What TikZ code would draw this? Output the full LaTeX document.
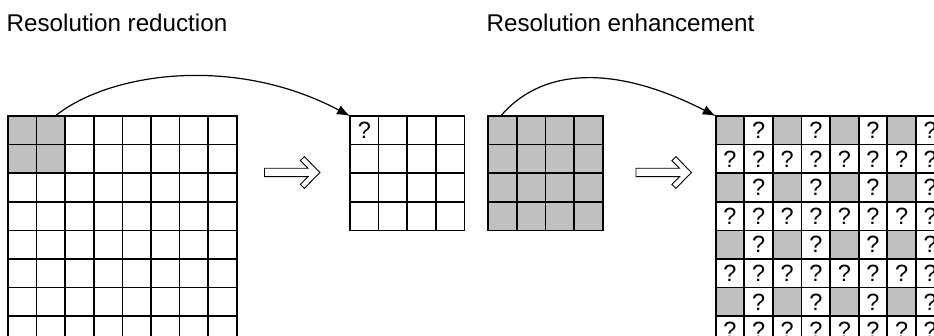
\documentclass[tikz,border=0pt]{standalone}
\usepackage{fontspec}
\setmainfont{Liberation Sans}
\usetikzlibrary{arrows.meta}
\definecolor{cellgray}{HTML}{C0C0C0}
\tikzset{
  cell/.style={draw, line width=1.7pt, minimum size=28.6pt, inner sep=0pt,
    outer sep=0pt, anchor=north west, font=\fontsize{23.5}{24}\selectfont},
  title/.style={anchor=base west, inner sep=0pt, font=\fontsize{24.2}{25}\selectfont},
  conn/.style={line width=1.2pt, -{Latex[length=13pt,width=10pt]}},
  hollowarrow/.pic={
    \draw[line width=0.9pt, fill=white]
      (0,-4.2) -- (43.5,-4.2) -- (35.8,-11.9) -- (39.8,-15.9) -- (55.5,0)
      -- (39.8,15.9) -- (35.8,11.9) -- (43.5,4.2) -- (0,4.2) -- cycle;
  }
}
\begin{document}
\begin{tikzpicture}[x=1pt,y=-1pt]
\path[use as bounding box] (0,0) rectangle (934,336);
\clip (0,0) rectangle (934,336);

% titles
\node[title] (t1) at (6.5,31.7) {Resolution reduction};
\node[title] (t2) at (486.5,31.7) {Resolution enhancement};

% 8x8 input grid, top-left 2x2 block shaded
\foreach \r in {0,...,7}{
  \foreach \c in {0,...,7}{
    \pgfmathtruncatemacro\g{(\r<2 && \c<2) ? 1 : 0}
    \ifnum\g=1 \def\fc{cellgray}\else\def\fc{white}\fi
    \node[cell, fill=\fc] (a-\r-\c) at ({8+28.6*\c},{116+28.6*\r}) {};
  }
}

% 4x4 reduced grid
\foreach \r in {0,...,3}{
  \foreach \c in {0,...,3}{
    \pgfmathtruncatemacro\g{(\r==0 && \c==0) ? 1 : 0}
    \ifnum\g=1 \def\txt{?}\else\def\txt{}\fi
    \node[cell, fill=white] (b-\r-\c) at ({350+28.6*\c},{116+28.6*\r}) {\txt};
  }
}

% 4x4 known grid
\foreach \r in {0,...,3}{
  \foreach \c in {0,...,3}{
    \node[cell, fill=cellgray] (c-\r-\c) at ({488.3+28.6*\c},{116+28.6*\r}) {};
  }
}

% 8x8 enhanced grid: known samples shaded, the rest unknown
\foreach \r in {0,...,7}{
  \foreach \c in {0,...,7}{
    \pgfmathtruncatemacro\g{(mod(\r,2)==0 && mod(\c,2)==0) ? 1 : 0}
    \ifnum\g=1 \def\fc{cellgray}\def\txt{}\else\def\fc{white}\def\txt{?}\fi
    \node[cell, fill=\fc] (d-\r-\c) at ({715.7+28.6*\c},{116+28.6*\r}) {\txt};
  }
}

% block arrows
\pic (h1) at (264.5,172.5) {hollowarrow};
\pic (h2) at (636,172.5) {hollowarrow};

% mapping curves
\coordinate (s1) at ([xshift=-10pt]a-0-1.north east);
\draw[conn] (s1) .. controls (110,72) and (235,55) .. (b-0-0.north west);
\coordinate (s2) at ([xshift=12.4pt]c-0-0.north west);
\draw[conn] (s2) .. controls (540,70) and (610,62) .. (d-0-0.north west);
\end{tikzpicture}
\end{document}
